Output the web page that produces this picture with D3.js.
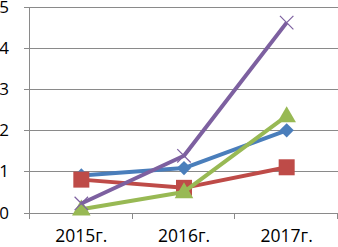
<!DOCTYPE html>
<html>
<head>
<meta charset="utf-8">
<script src="https://cdn.jsdelivr.net/npm/d3@7"></script>
<style>
  body { margin: 0; background: #fff; }
  svg { display: block; font-family: "Open Sans", "Liberation Sans", Arial, sans-serif; }
</style>
</head>
<body>
<svg id="chart" width="338" height="247"></svg>
<script>
// categories and series
const years = ["2015г.", "2016г.", "2017г."];
const yTicks = [0, 1, 2, 3, 4, 5];
const blueSeries = [0.9, 1.08, 2.0];
const redSeries = [0.8, 0.6, 1.1];
const greenSeries = [0.08, 0.5, 2.35];
const purpleSeries = [0.22, 1.38, 4.62];

const series = [
    { values: blueSeries, color: "#4a7ebb", marker: "diamond" },
    { values: redSeries, color: "#be4b48", marker: "square" },
    { values: greenSeries, color: "#98b954", marker: "triangle" },
    { values: purpleSeries, color: "#7d60a0", marker: "cross" }
];

const margin = { top: 7, right: 0, bottom: 34, left: 30 };
const height = 247;
const innerW = 310;
const innerH = height - margin.top - margin.bottom;

const svg = d3.select("#chart");
const g = svg.append("g").attr("transform", `translate(${margin.left},${margin.top})`);

const x = d3.scaleBand().domain(years).range([0, 308]);
const y = d3.scaleLinear().domain([0, 5]).range([innerH - 0.5, 0]);

// gridlines
g.selectAll(".grid")
    .data(yTicks)
    .join("line")
    .attr("x1", -6).attr("x2", innerW)
    .attr("y1", d => Math.round(y(d)) + 0.5)
    .attr("y2", d => Math.round(y(d)) + 0.5)
    .attr("stroke", "#8a8a8a")
    .attr("stroke-width", 1);

// y axis line
g.append("line")
    .attr("x1", -0.5).attr("x2", -0.5)
    .attr("y1", 0).attr("y2", Math.round(y(0)) + 6)
    .attr("stroke", "#8a8a8a");

// x ticks
g.selectAll(".xtick")
    .data(d3.range(years.length + 1))
    .join("line")
    .attr("x1", i => Math.round(i * x.step()) - 0.5)
    .attr("x2", i => Math.round(i * x.step()) - 0.5)
    .attr("y1", Math.round(y(0)))
    .attr("y2", Math.round(y(0)) + 6)
    .attr("stroke", "#8a8a8a");

// y labels
g.selectAll(".ylab")
    .data(yTicks)
    .join("text")
    .attr("x", -21)
    .attr("y", d => y(d) + 6)
    .attr("text-anchor", "end")
    .style("font-size", "17px")
    .attr("fill", "#000")
    .text(d => d);

// x labels
g.selectAll(".xlab")
    .data(years)
    .join("text")
    .attr("x", d => x(d) + x.bandwidth() / 2)
    .attr("y", innerH + 29)
    .attr("text-anchor", "middle")
    .style("font-size", "17.5px")
    .attr("fill", "#000")
    .text(d => d);

const line = d3.line()
    .x((d, i) => x(years[i]) + x.bandwidth() / 2)
    .y(d => y(d));

series.forEach(s => {
    g.append("path")
        .datum(s.values)
        .attr("fill", "none")
        .attr("stroke", s.color)
        .attr("stroke-width", 4)
        .attr("stroke-linejoin", "round")
        .attr("d", line);

    s.values.forEach((v, i) => {
        const cx = x(years[i]) + x.bandwidth() / 2, cy = y(v);
        if (s.marker === "diamond") {
            g.append("path")
                .attr("d", d3.symbol(d3.symbolDiamond2, 130)())
                .attr("transform", `translate(${cx},${cy})`)
                .attr("fill", s.color);
        } else if (s.marker === "square") {
            g.append("rect")
                .attr("x", cx - 8).attr("y", cy - 8)
                .attr("width", 16).attr("height", 16)
                .attr("fill", s.color);
        } else if (s.marker === "triangle") {
            g.append("path")
                .attr("d", d3.symbol(d3.symbolTriangle, 150)())
                .attr("transform", `translate(${cx},${cy + 1})`)
                .attr("fill", s.color);
        } else {
            g.append("path")
                .attr("d", d3.symbol(d3.symbolX, 120)())
                .attr("transform", `translate(${cx},${cy})`)
                .attr("fill", "none")
                .attr("stroke", s.color)
                .attr("stroke-width", 1.2);
        }
    });
});
</script>
</body>
</html>
